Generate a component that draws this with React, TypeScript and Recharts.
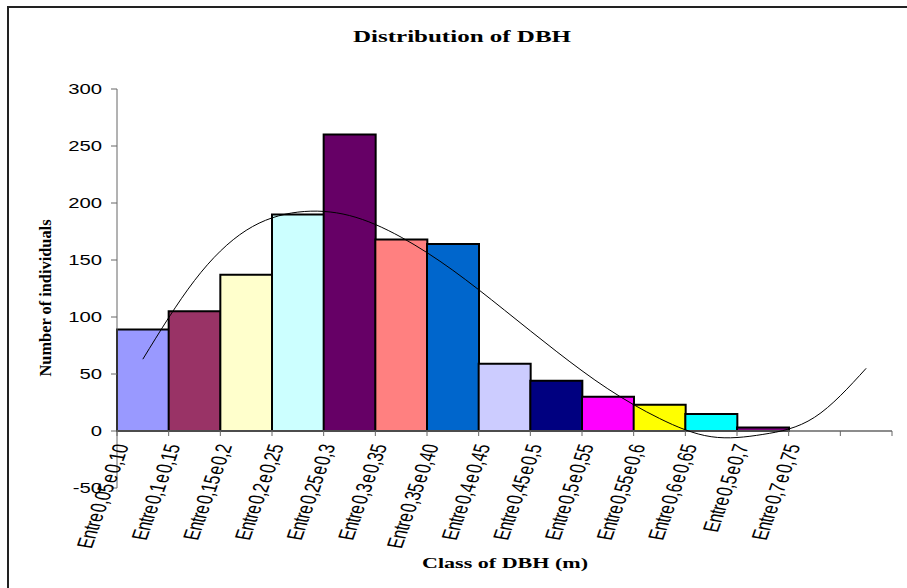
import React from 'react';
import {
  ComposedChart,
  Bar,
  Cell,
  Line,
  XAxis,
  YAxis,
  ReferenceLine,
  Label,
} from 'recharts';

const categories = [
  'Entre 0,05 e 0,10',
  'Entre 0,1 e 0,15',
  'Entre 0,15 e 0,2',
  'Entre 0,2 e 0,25',
  'Entre 0,25 e 0,3',
  'Entre 0,3 e 0,35',
  'Entre 0,35 e 0,40',
  'Entre 0,4 e 0,45',
  'Entre 0,45 e 0,5',
  'Entre 0,5 e 0,55',
  'Entre 0,55 e 0,6',
  'Entre 0,6 e 0,65',
  'Entre 0,5 e 0,7',
  'Entre 0,7 e 0,75',
  '',
];

const counts = [89, 105, 137, 190, 260, 168, 164, 59, 44, 30, 23, 15, 3, null, null];

const trend = [63, 132, 176, 192, 189, 170, 141, 106, 70, 37, 11, -5, -3, 12, 55];

const barColors = [
  '#9999FF', '#993366', '#FFFFCC', '#CCFFFF', '#660066', '#FF8080', '#0066CC',
  '#CCCCFF', '#000080', '#FF00FF', '#FFFF00', '#00FFFF', '#800080',
];

const yTicks = [-50, 0, 50, 100, 150, 200, 250, 300];

const data = categories.map((c, i) => ({ cat: c || ' ', count: counts[i], trend: trend[i] }));

// layout (px, page coords)
const W = 907;
const H = 588;
const TOP = 89;
const BOTTOM = 100;
const LEFT = 117;
const RIGHT = 15;
const PLOT_W = W - LEFT - RIGHT;
const PLOT_H = H - TOP - BOTTOM;
const ZERO_Y = TOP + (PLOT_H * 300) / 350;
const BAND = PLOT_W / categories.length;
const AXIS = '#666';

// labels look horizontally stretched in the original, so rotate then widen
const XTick = (props: any) => {
  const { x, index, payload } = props;
  const tx = x - 14;
  const ty = ZERO_Y + 15;
  return (
    <g>
      <line x1={x - BAND / 2} y1={ZERO_Y} x2={x - BAND / 2} y2={ZERO_Y + 5} stroke={AXIS} />
      {index === categories.length - 1 && (
        <line x1={x + BAND / 2} y1={ZERO_Y} x2={x + BAND / 2} y2={ZERO_Y + 5} stroke={AXIS} />
      )}
      <text
        transform={`translate(${tx}, ${ty}) scale(1.45, 1) rotate(-76)`}
        textAnchor="end"
        fontFamily="Liberation Sans, Arial, sans-serif"
        fontSize={15.5}
        letterSpacing={-0.3}
        wordSpacing={-2.5}
        fill="#000"
      >
        {payload.value}
      </text>
    </g>
  );
};

const YTick = (props: any) => {
  const { x, y, payload } = props;
  return (
    <text
      transform={`translate(${x}, ${y + 5}) scale(1.4, 1)`}
      textAnchor="end"
      fontFamily="Liberation Sans, Arial, sans-serif"
      fontSize={14.5}
      fill="#000"
    >
      {payload.value}
    </text>
  );
};

export default function App() {
  return (
    <div style={{ position: 'absolute', left: 0, top: 0, width: W, height: H, background: '#fff' }}>
      <div
        style={{
          position: 'absolute',
          left: 7,
          top: 6,
          width: 900,
          height: 582,
          boxSizing: 'border-box',
          borderTop: '2px solid #222',
          borderLeft: '2px solid #222',
        }}
      />
      <svg style={{ position: 'absolute', left: 0, top: 0 }} width={W} height={60}>
        <text
          x={462}
          y={42}
          textAnchor="middle"
          textLength={218}
          lengthAdjust="spacingAndGlyphs"
          fontFamily="Liberation Serif, Times New Roman, serif"
          fontWeight="bold"
          fontSize={16}
        >
          Distribution of DBH
        </text>
      </svg>
      <div style={{ position: 'absolute', left: 0, top: 0 }}>
        <ComposedChart
          width={W}
          height={H}
          data={data}
          barCategoryGap={0}
          barGap={0}
          margin={{ top: TOP, right: RIGHT, bottom: BOTTOM - 30, left: LEFT - 60 }}
        >
          <XAxis
            dataKey="cat"
            height={30}
            axisLine={false}
            tickLine={false}
            interval={0}
            tick={<XTick />}
          >
            <Label
              content={() => (
                <text
                  x={505}
                  y={568}
                  textAnchor="middle"
                  textLength={166}
                  lengthAdjust="spacingAndGlyphs"
                  fontFamily="Liberation Serif, Times New Roman, serif"
                  fontWeight="bold"
                  fontSize={15}
                >
                  Class of DBH (m)
                </text>
              )}
            />
          </XAxis>
          <YAxis
            width={60}
            domain={[-50, 300]}
            ticks={yTicks}
            interval={0}
            axisLine={{ stroke: AXIS }}
            tickLine={{ stroke: AXIS }}
            tickSize={6}
            tickMargin={9}
            tick={<YTick />}
          >
            <Label
              content={() => (
                <text
                  x={51}
                  y={298}
                  transform="rotate(-90, 51, 298)"
                  textAnchor="middle"
                  textLength={157}
                  lengthAdjust="spacingAndGlyphs"
                  fontFamily="Liberation Serif, Times New Roman, serif"
                  fontWeight="bold"
                  fontSize={17}
                >
                  Number of individuals
                </text>
              )}
            />
          </YAxis>
          <Bar dataKey="count" stroke="#000" strokeWidth={2} isAnimationActive={false}>
            {data.map((_, i) => (
              <Cell key={i} fill={barColors[i] || '#fff'} />
            ))}
          </Bar>
          <ReferenceLine y={0} stroke={AXIS} strokeWidth={1.5} />
          <Line
            dataKey="trend"
            type="natural"
            stroke="#000"
            strokeWidth={1}
            dot={false}
            activeDot={false}
            isAnimationActive={false}
          />
        </ComposedChart>
      </div>
    </div>
  );
}
